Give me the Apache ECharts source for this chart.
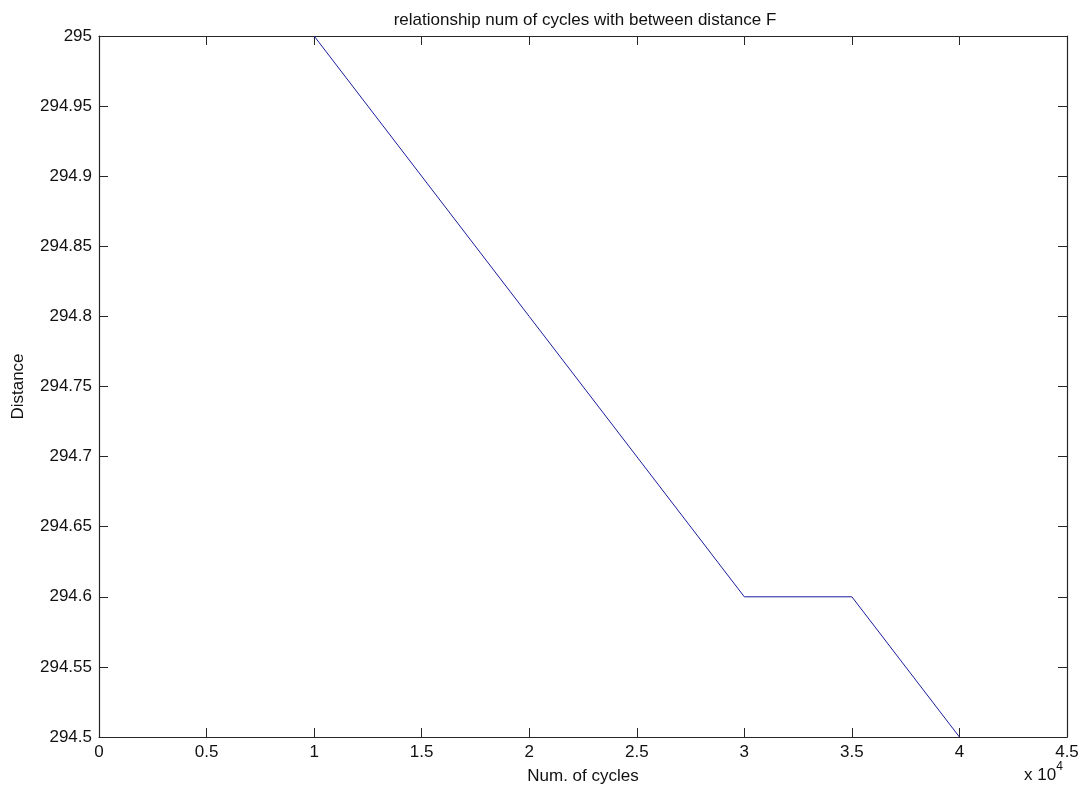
<!DOCTYPE html>
<html>
<head>
<meta charset="utf-8">
<script src="https://cdn.jsdelivr.net/npm/echarts@6/dist/echarts.min.js"></script>
<style>
  html, body { margin: 0; padding: 0; background: #fff; }
  #chart { width: 1084px; height: 798px; }
</style>
</head>
<body>
<div id="chart"></div>
<script>
// Number of cycles and measured distance
const cycles = [10000, 30000, 35000, 40000];
const distance = [295, 294.6, 294.6, 294.5];

const titleText = 'relationship num of cycles with between distance F';
const xName = 'Num. of cycles';
const yName = 'Distance';

const FONT = '"Liberation Sans", Arial, sans-serif';
const FS = 17;
const AX = '#262626';
const TXT = '#111';

const points = cycles.map((c, i) => [c, distance[i]]);

const xFmt = v => String(+(v / 10000).toFixed(1));
const yFmt = v => String(+v.toFixed(2));

const chart = echarts.init(document.getElementById('chart'), null, { renderer: 'canvas' });

const baseAxis = {
  axisLine: { show: true, onZero: false, lineStyle: { color: AX, width: 1.2 } },
  axisTick: { show: true, inside: true, length: 9, lineStyle: { color: AX, width: 1 } },
  splitLine: { show: false }
};

chart.setOption({
  backgroundColor: '#fff',
  animation: false,
  textStyle: { fontFamily: FONT },
  title: {
    text: titleText,
    left: 580, top: 7, textAlign: 'center',
    textStyle: { fontFamily: FONT, fontSize: FS, fontWeight: 'normal', color: TXT }
  },
  grid: { left: 99, right: 17, top: 36, bottom: 61, containLabel: false },
  xAxis: [
    Object.assign({}, baseAxis, {
      type: 'value', position: 'bottom', min: 0, max: 45000, interval: 5000,
      name: xName, nameLocation: 'middle', nameGap: 31,
      nameTextStyle: { fontFamily: FONT, fontSize: FS, color: TXT },
      axisLabel: { formatter: xFmt, margin: 7, fontFamily: FONT, fontSize: FS, color: TXT }
    }),
    Object.assign({}, baseAxis, {
      type: 'value', position: 'top', min: 0, max: 45000, interval: 5000,
      axisLabel: { show: false }
    })
  ],
  yAxis: [
    Object.assign({}, baseAxis, {
      type: 'value', position: 'left', min: 294.5, max: 295, interval: 0.05,
      name: yName, nameLocation: 'middle', nameGap: 72,
      nameTextStyle: { fontFamily: FONT, fontSize: FS, color: TXT },
      axisLabel: { formatter: yFmt, margin: 7, fontFamily: FONT, fontSize: FS, color: TXT }
    }),
    Object.assign({}, baseAxis, {
      type: 'value', position: 'right', min: 294.5, max: 295, interval: 0.05,
      axisLabel: { show: false }
    })
  ],
  series: [{
    type: 'line',
    data: points,
    xAxisIndex: 0, yAxisIndex: 0,
    symbol: 'none',
    lineStyle: { color: '#1c1c9c', width: 1 },
    z: 1
  }],
  graphic: [{
    type: 'text',
    left: 1024, top: 761,
    style: {
      text: '{b|x 10}{s|4}',
      rich: {
        b: { fontFamily: FONT, fontSize: FS, fill: TXT, verticalAlign: 'bottom', padding: [6, 0, 0, 0] },
        s: { fontFamily: FONT, fontSize: 12, fill: TXT, verticalAlign: 'top' }
      }
    }
  }]
});
</script>
</body>
</html>
